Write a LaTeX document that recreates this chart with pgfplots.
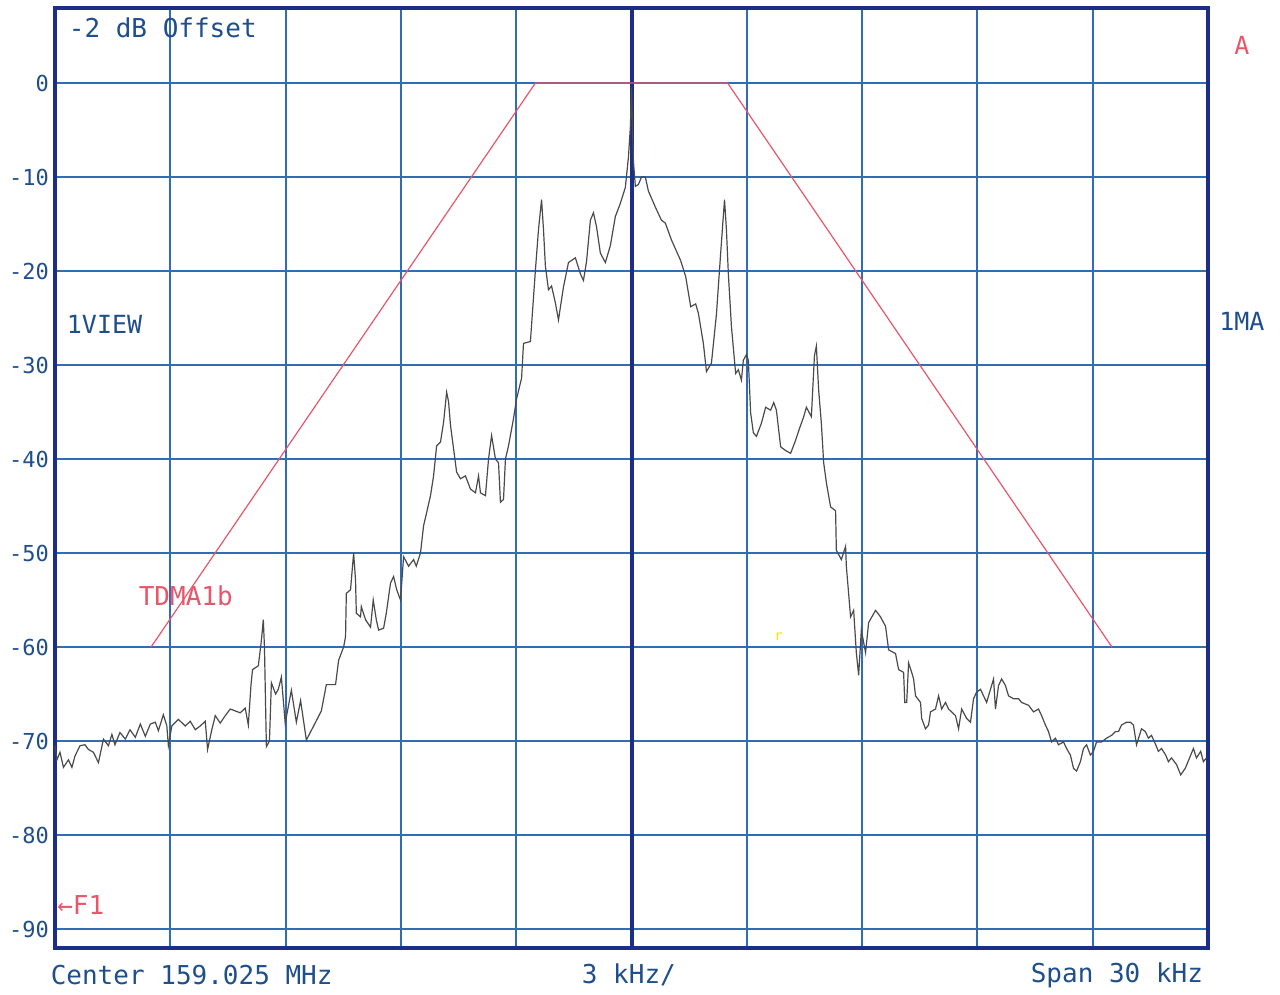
\documentclass[border=0pt]{standalone}
\usepackage{pgfplots}
\pgfplotsset{compat=1.18}
\usepackage{fontspec}
\setmainfont{DejaVu Sans Mono}
\definecolor{gridblue}{HTML}{2F6DB5}
\definecolor{framenavy}{HTML}{1C2E86}
\definecolor{textblue}{HTML}{1F4E8C}
\definecolor{maskred}{HTML}{E8566A}
\definecolor{tracegray}{HTML}{4A4A4A}
\begin{document}
\begin{tikzpicture}
\begin{axis}[
  scale only axis, width=576.5pt, height=470pt,
  xmin=-15, xmax=15, ymin=-92, ymax=8,
  xtick={-12,-9,...,12}, xticklabels={},
  ytick={-90,-80,...,0},
  yticklabels={-90,-80,-70,-60,-50,-40,-30,-20,-10,0},
  grid=major,
  major grid style={gridblue, line width=1pt},
  axis line style={framenavy, line width=2pt},
  tick style={draw=none},
  yticklabel style={textblue, font=\fontsize{11}{11}\selectfont, xshift=0.5pt},
  clip=false,
]
\draw[framenavy, line width=2pt] (axis cs:0,-92) -- (axis cs:0,8);
\addplot[maskred, line width=0.6pt] coordinates {(-12.5,-60) (-2.5,0) (2.5,0) (12.5,-60)};
\addplot[tracegray, line width=0.6pt] coordinates {
(-15.00,-70.5) (-14.95,-72.0) (-14.87,-71.2) (-14.78,-72.8) (-14.65,-72.0) (-14.56,-72.8)
(-14.48,-71.6) (-14.35,-70.5) (-14.22,-70.4) (-14.13,-70.9) (-14.00,-71.2) (-13.87,-72.3)
(-13.74,-69.8) (-13.61,-70.5) (-13.52,-69.3) (-13.44,-70.4) (-13.31,-69.1) (-13.17,-69.8)
(-13.05,-68.8) (-12.91,-69.6) (-12.78,-68.2) (-12.65,-69.5) (-12.52,-68.2) (-12.39,-68.0)
(-12.31,-68.9) (-12.18,-67.2) (-12.09,-68.4) (-12.05,-70.5) (-11.96,-68.4) (-11.79,-67.7)
(-11.61,-68.4) (-11.48,-67.9) (-11.35,-68.8) (-11.22,-68.4) (-11.09,-67.9) (-11.03,-70.9)
(-10.92,-68.8) (-10.83,-67.3) (-10.70,-68.1) (-10.57,-67.3) (-10.44,-66.6) (-10.31,-66.8)
(-10.18,-67.0) (-10.05,-66.5) (-9.97,-68.3) (-9.90,-64.0) (-9.86,-62.4)
(-9.71,-62.0) (-9.63,-59.3) (-9.58,-57.1) (-9.55,-60.0) (-9.50,-70.6) (-9.42,-70.0)
(-9.37,-63.8) (-9.26,-65.0) (-9.19,-64.5) (-9.11,-63.2) (-9.01,-68.1) (-8.85,-64.6)
(-8.72,-68.0) (-8.61,-65.7) (-8.46,-69.9) (-8.22,-68.0) (-8.07,-66.8) (-7.94,-64.0)
(-7.70,-64.0) (-7.62,-61.4) (-7.49,-60.0) (-7.44,-58.9) (-7.42,-54.3) (-7.31,-53.9)
(-7.23,-50.0) (-7.18,-52.9) (-7.16,-56.4) (-7.05,-56.8) (-7.03,-55.7) (-6.92,-57.1)
(-6.79,-57.9) (-6.72,-55.0) (-6.64,-57.1) (-6.58,-58.2) (-6.45,-58.0) (-6.38,-56.4)
(-6.27,-53.2) (-6.19,-52.5) (-6.11,-53.9) (-6.01,-55.0) (-5.93,-50.4) (-5.80,-51.4)
(-5.67,-50.7) (-5.60,-51.4) (-5.49,-50.0) (-5.41,-47.1) (-5.33,-45.7) (-5.23,-43.9)
(-5.15,-41.8) (-5.07,-38.6) (-4.97,-38.2) (-4.89,-36.1) (-4.81,-32.9) (-4.76,-33.9)
(-4.71,-36.4) (-4.63,-38.9) (-4.55,-41.4) (-4.45,-42.1) (-4.32,-41.8) (-4.19,-43.2)
(-4.06,-43.6) (-3.98,-41.8) (-3.93,-43.6) (-3.80,-43.9) (-3.72,-40.0) (-3.64,-37.5)
(-3.54,-40.0) (-3.46,-40.4) (-3.41,-44.6) (-3.33,-44.3) (-3.28,-40.0) (-3.20,-38.6)
(-3.07,-35.7) (-2.99,-33.6) (-2.86,-31.4) (-2.81,-27.7)
(-2.63,-27.5) (-2.50,-19.9) (-2.42,-15.6) (-2.34,-12.4) (-2.29,-15.6) (-2.24,-19.5)
(-2.16,-22.0) (-2.08,-21.6) (-1.98,-23.4) (-1.90,-25.2) (-1.77,-21.7) (-1.64,-19.1)
(-1.46,-18.6) (-1.33,-20.3) (-1.25,-21.0) (-1.17,-19.0) (-1.07,-14.6) (-0.99,-13.8)
(-0.91,-15.3) (-0.81,-18.1) (-0.68,-19.1) (-0.55,-17.3) (-0.42,-14.2) (-0.29,-12.8)
(-0.16,-11.1) (-0.08,-7.9) (-0.03,-4.7) (0.00,-0.5) (0.05,-8.3) (0.10,-11.0)
(0.18,-10.8) (0.26,-10.0) (0.36,-10.0) (0.44,-11.5) (0.62,-13.2) (0.78,-14.6)
(0.88,-14.9) (1.04,-16.7) (1.28,-18.9) (1.41,-20.6) (1.54,-23.8) (1.67,-23.5)
(1.74,-24.5) (1.87,-27.7) (1.95,-30.7) (2.08,-29.8) (2.21,-24.6) (2.32,-18.1)
(2.42,-12.4) (2.47,-15.6) (2.52,-20.3) (2.60,-25.9) (2.71,-30.9) (2.78,-30.5)
(2.86,-31.6) (2.91,-29.5) (2.99,-28.9) (3.04,-29.5) (3.10,-35.1) (3.17,-37.2)
(3.25,-37.6) (3.38,-36.2) (3.49,-34.5) (3.62,-34.8) (3.70,-34.0) (3.77,-34.8)
(3.88,-38.7) (4.01,-39.1) (4.14,-39.4) (4.27,-38.0) (4.35,-37.0) (4.48,-35.5)
(4.55,-34.5) (4.68,-35.5) (4.76,-29.0) (4.81,-28.0) (4.87,-32.7) (4.94,-36.2)
(5.00,-40.4) (5.07,-42.5) (5.18,-45.1) (5.31,-45.5) (5.33,-49.7) (5.46,-50.7)
(5.57,-49.3) (5.59,-51.4) (5.70,-56.8) (5.78,-56.1) (5.85,-60.6) (5.91,-63.0)
(5.98,-58.2) (6.09,-60.6) (6.17,-57.4) (6.35,-56.1) (6.48,-56.8) (6.61,-57.8)
(6.69,-60.3) (6.87,-60.7) (6.95,-62.4) (7.08,-62.7) (7.11,-65.9) (7.16,-65.9)
(7.21,-61.7) (7.29,-62.7) (7.34,-63.4) (7.39,-65.2) (7.52,-65.9) (7.55,-67.6)
(7.65,-68.7) (7.73,-68.3) (7.78,-66.9) (7.91,-66.6) (7.99,-65.2) (8.07,-66.6)
(8.17,-65.9) (8.25,-66.6) (8.33,-66.9) (8.43,-67.3) (8.51,-68.7) (8.59,-66.6)
(8.72,-67.6) (8.82,-68.0) (8.90,-65.5) (8.98,-64.8) (9.08,-64.5) (9.16,-65.2)
(9.24,-65.9) (9.34,-64.5) (9.42,-63.4) (9.47,-66.6) (9.55,-64.1) (9.63,-63.4)
(9.73,-64.1) (9.81,-65.2) (9.94,-65.5) (10.07,-65.5) (10.15,-65.9) (10.33,-66.2)
(10.46,-66.9) (10.59,-66.6) (10.67,-67.3) (10.77,-68.3) (10.85,-69.0) (10.93,-70.1)
(11.03,-69.7) (11.11,-70.4) (11.24,-70.1) (11.32,-70.8) (11.42,-71.5) (11.50,-72.9)
(11.58,-73.2) (11.68,-72.2) (11.76,-70.8) (11.84,-70.4) (11.94,-71.5) (12.02,-71.1)
(12.10,-70.1) (12.23,-70.1) (12.36,-69.7) (12.49,-69.4) (12.59,-69.0) (12.67,-69.0)
(12.75,-68.3) (12.88,-68.0) (12.98,-68.0) (13.06,-68.3) (13.14,-70.4) (13.27,-68.7)
(13.37,-69.0) (13.45,-69.7) (13.53,-69.4) (13.64,-70.4) (13.71,-71.1) (13.79,-70.8)
(13.90,-71.5) (13.97,-72.2) (14.05,-71.8) (14.18,-72.5) (14.29,-73.6) (14.41,-72.9)
(14.55,-71.5) (14.62,-70.8) (14.70,-71.8) (14.81,-71.1) (14.88,-72.2) (14.96,-71.8)
};
\node[anchor=west, inner xsep=0pt, textblue, font=\fontsize{13}{13}\selectfont] at (axis cs:-14.65,5.85) {-2 dB Offset};
\node[anchor=west, inner xsep=0pt, textblue, font=\fontsize{12.5}{12.5}\selectfont] at (axis cs:-14.70,-25.7) {1VIEW};
\node[anchor=west, inner xsep=0pt, maskred, font=\fontsize{13}{13}\selectfont] at (axis cs:-12.83,-54.6) {TDMA1b};
\node[anchor=west, inner xsep=0pt, maskred, font=\fontsize{13}{13}\selectfont] at (axis cs:-14.95,-87.4) {←F1};
\node[maskred, font=\fontsize{12.5}{12.5}\selectfont] at (axis cs:15.88,4.0) {A};
\node[textblue, font=\fontsize{12.5}{12.5}\selectfont] at (axis cs:15.88,-25.4) {1MA};
\node[text=yellow!85!orange, font=\fontsize{7}{7}\selectfont] at (axis cs:3.83,-58.9) {r};
\node[anchor=west, inner xsep=0pt, textblue, font=\fontsize{13}{13}\selectfont] at (axis cs:-15.12,-94.9) {Center 159.025 MHz};
\node[anchor=west, inner xsep=0pt, textblue, font=\fontsize{13}{13}\selectfont] at (axis cs:-1.30,-94.9) {3 kHz/};
\node[anchor=east, inner xsep=0pt, textblue, font=\fontsize{13}{13}\selectfont] at (axis cs:14.88,-94.9) {Span 30 kHz};
\end{axis}
\path[use as bounding box] ([shift={(-27.5pt,-22.1pt)}]current axis.south west) rectangle ([shift={(36pt,3.9pt)}]current axis.north east);
\end{tikzpicture}
\end{document}
